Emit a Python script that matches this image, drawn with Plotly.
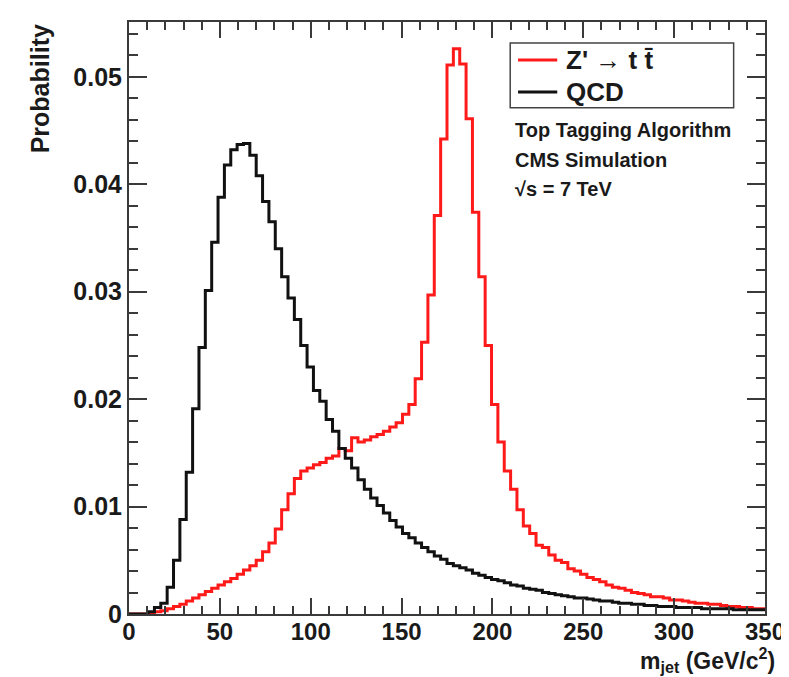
import numpy as np
import plotly.graph_objects as go

# ---------------- data ----------------
BIN_WIDTH = 3.5          # GeV, 100 bins between 0 and 350
N_BINS = 100

zprime_ttbar = [
    0.0, 0.0, 0.0, 0.0001, 0.0002, 0.0003, 0.0005, 0.0007, 0.0009, 0.0012,
    0.0015, 0.0018, 0.0021, 0.0024, 0.0027, 0.0030, 0.0033, 0.0037, 0.0041, 0.0045,
    0.0050, 0.0058, 0.0066, 0.0079, 0.0097, 0.0112, 0.0126, 0.0133, 0.0136, 0.0139,
    0.0141, 0.0145, 0.0147, 0.0154, 0.0152, 0.0164, 0.0160, 0.0162, 0.0165, 0.0167,
    0.0170, 0.0174, 0.0178, 0.0186, 0.0195, 0.0219, 0.0253, 0.0297, 0.0371, 0.0442,
    0.0511, 0.0526, 0.0512, 0.0461, 0.0374, 0.0314, 0.0250, 0.0195, 0.0160, 0.0133,
    0.0116, 0.0097, 0.0082, 0.0075, 0.0064, 0.0062, 0.0055, 0.0050, 0.0048, 0.0042,
    0.0040, 0.0037, 0.0034, 0.0032, 0.0030, 0.0027, 0.0025, 0.0024, 0.0022, 0.0020,
    0.0019, 0.0018, 0.0016, 0.0016, 0.0015, 0.0013, 0.0013, 0.0012, 0.0011, 0.0010,
    0.0010, 0.0009, 0.0009, 0.0008, 0.0007, 0.0007, 0.0006, 0.0006, 0.0005, 0.0005,
]

qcd = [
    0.0, 0.0, 0.0, 0.0002, 0.0006, 0.0010, 0.0025, 0.0050, 0.0088, 0.0132,
    0.0191, 0.0248, 0.0301, 0.0346, 0.0388, 0.0418, 0.0432, 0.0437, 0.0438, 0.0427,
    0.0408, 0.0384, 0.0365, 0.0340, 0.0314, 0.0294, 0.0274, 0.0250, 0.0230, 0.0208,
    0.0198, 0.0181, 0.0170, 0.0154, 0.0145, 0.0136, 0.0125, 0.0116, 0.0108, 0.0101,
    0.0094, 0.0087, 0.0081, 0.0075, 0.0071, 0.0066, 0.0062, 0.0058, 0.0054, 0.0051,
    0.0047, 0.0045, 0.0043, 0.0041, 0.0038, 0.0036, 0.0034, 0.0032, 0.0031, 0.0029,
    0.0027, 0.0026, 0.0024, 0.0023, 0.0022, 0.0020, 0.0019, 0.0018, 0.0017, 0.0016,
    0.0015, 0.0015, 0.0014, 0.0013, 0.0012, 0.0012, 0.0011, 0.0010, 0.0010, 0.0009,
    0.0009, 0.0008, 0.0008, 0.0007, 0.0007, 0.0007, 0.0006, 0.0006, 0.0006, 0.0006,
    0.0005, 0.0005, 0.0005, 0.0005, 0.0005, 0.0004, 0.0004, 0.0004, 0.0004, 0.0004,
]

series_names = ["Z' \u2192 t t\u0304", "QCD"]
series_colors = ["#ff1a1a", "#111111"]
x_tick_values = [0, 50, 100, 150, 200, 250, 300, 350]
y_tick_values = [0, 0.01, 0.02, 0.03, 0.04, 0.05]
y_tick_labels = ["0", "0.01", "0.02", "0.03", "0.04", "0.05"]
info_lines = ["Top Tagging Algorithm", "CMS Simulation", "\u221As = 7 TeV"]

# ---------------- figure ----------------
W, H = 789, 677
ML, MR, MT, MB = 121, 19, 13, 71
PW, PH = W - ML - MR, H - MT - MB


def px(x):
    return (x - ML) / PW


def py(y):
    return (H - MB - y) / PH


edges = np.arange(N_BINS + 1) * BIN_WIDTH


def step_y(vals):
    return list(vals) + [vals[-1]]


FONT = "Liberation Sans, Arial, Helvetica, sans-serif"
AXC = "#3a3a3a"
TXT = "#1a1a1a"

fig = go.Figure()
for vals, name, col in zip([zprime_ttbar, qcd], series_names, series_colors):
    fig.add_trace(go.Scatter(
        x=edges, y=step_y(vals), mode="lines", line_shape="hv",
        line=dict(color=col, width=3), name=name, showlegend=False))

shapes = [dict(type="rect", xref="paper", yref="paper",
               x0=px(510), x1=px(738), y0=py(99), y1=py(34),
               line=dict(color="#444", width=1.5), fillcolor="rgba(0,0,0,0)")]
legend_rows_y = [51, 83]
for yy, col in zip(legend_rows_y, series_colors):
    shapes.append(dict(type="line", xref="paper", yref="paper",
                       x0=px(518), x1=px(558), y0=py(yy), y1=py(yy),
                       line=dict(color=col, width=3)))

fig.update_layout(
    width=W, height=H,
    margin=dict(l=ML, r=MR, t=MT, b=MB),
    paper_bgcolor="white", plot_bgcolor="white",
    showlegend=False,
    shapes=shapes,
)

for yy, name in zip(legend_rows_y, series_names):
    fig.add_annotation(
        text=name, xref="paper", yref="paper",
        x=px(565), y=py(yy), xanchor="left", yanchor="middle", showarrow=False,
        font=dict(family=FONT, size=26, color=TXT, weight="bold"))

fig.update_xaxes(
    range=[0, 350], tickvals=x_tick_values, showgrid=False, zeroline=False,
    showline=True, linecolor=AXC, linewidth=2, mirror="allticks",
    ticks="inside", ticklen=16, tickwidth=1.5, tickcolor=AXC,
    minor=dict(ticks="inside", ticklen=8, dtick=10, tickwidth=1.5, tickcolor=AXC),
    ticklabeloverflow="allow", ticklabelstandoff=-5,
    tickfont=dict(family=FONT, size=24, color=TXT, weight="bold"),
)
fig.update_yaxes(
    range=[0, 0.0551], tickvals=y_tick_values, ticktext=y_tick_labels,
    showgrid=False, zeroline=False,
    showline=True, linecolor=AXC, linewidth=2, mirror="allticks",
    ticks="inside", ticklen=18, tickwidth=1.5, tickcolor=AXC,
    minor=dict(ticks="inside", ticklen=9, dtick=0.002, tickwidth=1.5, tickcolor=AXC),
    ticklabeloverflow="allow",
    tickfont=dict(family=FONT, size=25, color=TXT, weight="bold"),
)

# axis titles (ROOT-style, aligned to the end of the axis)
fig.add_annotation(
    text="Probability", xref="paper", yref="paper",
    x=px(30), y=py(13), xanchor="center", yanchor="top",
    textangle=-90, showarrow=False,
    font=dict(family=FONT, size=25, color=TXT, weight="bold"))
fig.add_annotation(
    text="m<sub>jet</sub> (GeV/c<sup>2</sup>)", xref="paper", yref="paper",
    x=px(781), y=py(669), xanchor="right", yanchor="bottom", borderpad=0,
    showarrow=False,
    font=dict(family=FONT, size=23, color=TXT, weight="bold"))

# info text
info_y = [121, 151, 180]
for txt, yy in zip(info_lines, info_y):
    fig.add_annotation(
        text=txt, xref="paper", yref="paper",
        x=px(513), y=py(yy), xanchor="left", yanchor="middle",
        showarrow=False,
        font=dict(family=FONT, size=20, color=TXT, weight="bold"))

fig.write_html("out.html")
